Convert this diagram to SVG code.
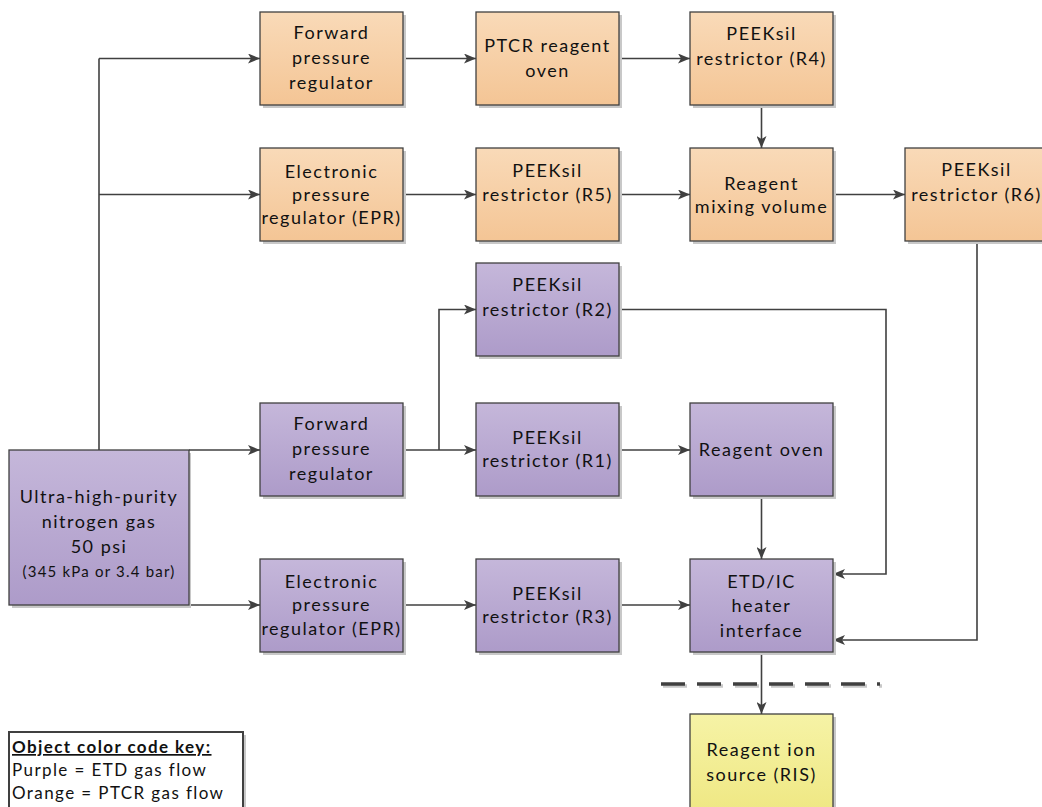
<svg xmlns="http://www.w3.org/2000/svg" width="1042" height="807" viewBox="0 0 1042 807">
<defs>
<linearGradient id="gOr" x1="0" y1="0" x2="0" y2="1"><stop offset="0" stop-color="#f9dab8"/><stop offset="1" stop-color="#f4c595"/></linearGradient>
<linearGradient id="gPu" x1="0" y1="0" x2="0" y2="1"><stop offset="0" stop-color="#c5b7da"/><stop offset="1" stop-color="#ad9bc9"/></linearGradient>
<linearGradient id="gYe" x1="0" y1="0" x2="0" y2="1"><stop offset="0" stop-color="#f6f3a6"/><stop offset="1" stop-color="#efe884"/></linearGradient>
<marker id="ah" viewBox="0 0 12 10" refX="12" refY="5" markerWidth="12" markerHeight="10" markerUnits="userSpaceOnUse" orient="auto"><path d="M0,0 L12,5 L0,10 L3,5 Z" fill="#404040"/></marker>
</defs>
<style>
.sh{fill:#c8c8c8}
.box{stroke:#404040;stroke-width:1.3}
.or{fill:url(#gOr)}
.pu{fill:url(#gPu)}
.ye{fill:url(#gYe)}
text{font-family:Lato,"Open Sans","Liberation Sans",sans-serif;font-size:18px;fill:#111111;text-anchor:middle;letter-spacing:1.5px}
.sm{font-size:15px;letter-spacing:1.2px}
.lg{text-anchor:start;font-size:17px;letter-spacing:1.4px}
.c{fill:none;stroke:#404040;stroke-width:1.6}
.a{marker-end:url(#ah)}
</style>
<rect width="1042" height="807" fill="#ffffff"/>
<g id="connectors">
<path class="c" d="M99,450 V58.5"/>
<path class="c a" d="M99,58.5 H260"/>
<path class="c a" d="M99,194.5 H260"/>
<path class="c a" d="M403,58.5 H476"/>
<path class="c a" d="M619,58.5 H690"/>
<path class="c a" d="M761.5,105 V148"/>
<path class="c a" d="M403,194.5 H476"/>
<path class="c a" d="M619,194.5 H690"/>
<path class="c a" d="M833,194.5 H905"/>
<path class="c a" d="M977,241 V640 H833"/>
<path class="c a" d="M189,450 H260"/>
<path class="c a" d="M403,450 H476"/>
<path class="c a" d="M439,450 V309.5 H476"/>
<path class="c a" d="M619,309.5 H886 V574 H833"/>
<path class="c a" d="M619,450 H690"/>
<path class="c a" d="M761.5,496 V559"/>
<path class="c a" d="M189,605 H260"/>
<path class="c a" d="M403,605 H476"/>
<path class="c a" d="M619,605 H690"/>
<path class="c a" d="M761.5,652 V714"/>
<path d="M663,686 H882" fill="none" stroke="#c8c8c8" stroke-width="3.5" stroke-dasharray="24 12"/>
<path d="M661,684 H880" fill="none" stroke="#404040" stroke-width="3.5" stroke-dasharray="24 12"/>
</g>
<g id="n_fpr_o">
<rect class="sh" x="263" y="15" width="143" height="93"/>
<rect class="box or" x="260" y="12" width="143" height="93"/>
<text x="331.5" y="39">Forward</text><text x="331.5" y="64">pressure</text><text x="331.5" y="89">regulator</text>
</g>
<g id="n_ptcr_oven">
<rect class="sh" x="479" y="15" width="143" height="93"/>
<rect class="box or" x="476" y="12" width="143" height="93"/>
<text x="547.5" y="52">PTCR reagent</text><text x="547.5" y="77">oven</text>
</g>
<g id="n_r4">
<rect class="sh" x="693" y="15" width="143" height="93"/>
<rect class="box or" x="690" y="12" width="143" height="93"/>
<text x="761.5" y="40">PEEKsil</text><text x="761.5" y="65">restrictor (R4)</text>
</g>
<g id="n_epr_o">
<rect class="sh" x="263" y="151" width="143" height="93"/>
<rect class="box or" x="260" y="148" width="143" height="93"/>
<text x="331.5" y="178">Electronic</text><text x="331.5" y="201">pressure</text><text x="331.5" y="224">regulator (EPR)</text>
</g>
<g id="n_r5">
<rect class="sh" x="479" y="151" width="143" height="93"/>
<rect class="box or" x="476" y="148" width="143" height="93"/>
<text x="547.5" y="177">PEEKsil</text><text x="547.5" y="201">restrictor (R5)</text>
</g>
<g id="n_mix">
<rect class="sh" x="693" y="151" width="143" height="93"/>
<rect class="box or" x="690" y="148" width="143" height="93"/>
<text x="761.5" y="190">Reagent</text><text x="761.5" y="213">mixing volume</text>
</g>
<g id="n_r6">
<rect class="sh" x="908" y="151" width="143" height="93"/>
<rect class="box or" x="905" y="148" width="143" height="93"/>
<text x="976.5" y="176">PEEKsil</text><text x="976.5" y="201">restrictor (R6)</text>
</g>
<g id="n_r2">
<rect class="sh" x="479" y="266" width="143" height="93"/>
<rect class="box pu" x="476" y="263" width="143" height="93"/>
<text x="547.5" y="291">PEEKsil</text><text x="547.5" y="316">restrictor (R2)</text>
</g>
<g id="n_fpr_p">
<rect class="sh" x="263" y="406" width="143" height="93"/>
<rect class="box pu" x="260" y="403" width="143" height="93"/>
<text x="331.5" y="430">Forward</text><text x="331.5" y="455">pressure</text><text x="331.5" y="480">regulator</text>
</g>
<g id="n_r1">
<rect class="sh" x="479" y="406" width="143" height="93"/>
<rect class="box pu" x="476" y="403" width="143" height="93"/>
<text x="547.5" y="444">PEEKsil</text><text x="547.5" y="467">restrictor (R1)</text>
</g>
<g id="n_oven">
<rect class="sh" x="693" y="406" width="143" height="93"/>
<rect class="box pu" x="690" y="403" width="143" height="93"/>
<text x="761.5" y="456">Reagent oven</text>
</g>
<g id="n_source">
<rect class="sh" x="12" y="453" width="179" height="155"/>
<rect class="box pu" x="9" y="450" width="180" height="155"/>
<text x="99" y="503">Ultra-high-purity</text><text x="99" y="528">nitrogen gas</text><text x="99" y="553">50 psi</text><text class="sm" x="99" y="577">(345 kPa or 3.4 bar)</text>
</g>
<g id="n_epr_p">
<rect class="sh" x="263" y="562" width="143" height="93"/>
<rect class="box pu" x="260" y="559" width="143" height="93"/>
<text x="331.5" y="588">Electronic</text><text x="331.5" y="611">pressure</text><text x="331.5" y="635">regulator (EPR)</text>
</g>
<g id="n_r3">
<rect class="sh" x="479" y="562" width="143" height="93"/>
<rect class="box pu" x="476" y="559" width="143" height="93"/>
<text x="547.5" y="600">PEEKsil</text><text x="547.5" y="623">restrictor (R3)</text>
</g>
<g id="n_etd">
<rect class="sh" x="693" y="562" width="143" height="93"/>
<rect class="box pu" x="690" y="559" width="143" height="93"/>
<text x="761.5" y="588">ETD/IC</text><text x="761.5" y="612">heater</text><text x="761.5" y="637">interface</text>
</g>
<g id="n_ris">
<rect class="sh" x="693" y="717" width="143" height="93"/>
<rect class="box ye" x="690" y="714" width="143" height="96"/>
<text x="761.5" y="756">Reagent ion</text><text x="761.5" y="781">source (RIS)</text>
</g>
<g id="legend">
<rect x="12" y="735" width="234" height="80" fill="#c8c8c8"/>
<rect x="9" y="732" width="234" height="80" fill="#ffffff" stroke="#404040" stroke-width="2"/>
<text class="lg" x="12" y="753" font-weight="bold" text-decoration="underline">Object color code key:</text>
<text class="lg" x="12" y="776">Purple = ETD gas flow</text>
<text class="lg" x="12" y="799">Orange = PTCR gas flow</text>
</g>
</svg>
